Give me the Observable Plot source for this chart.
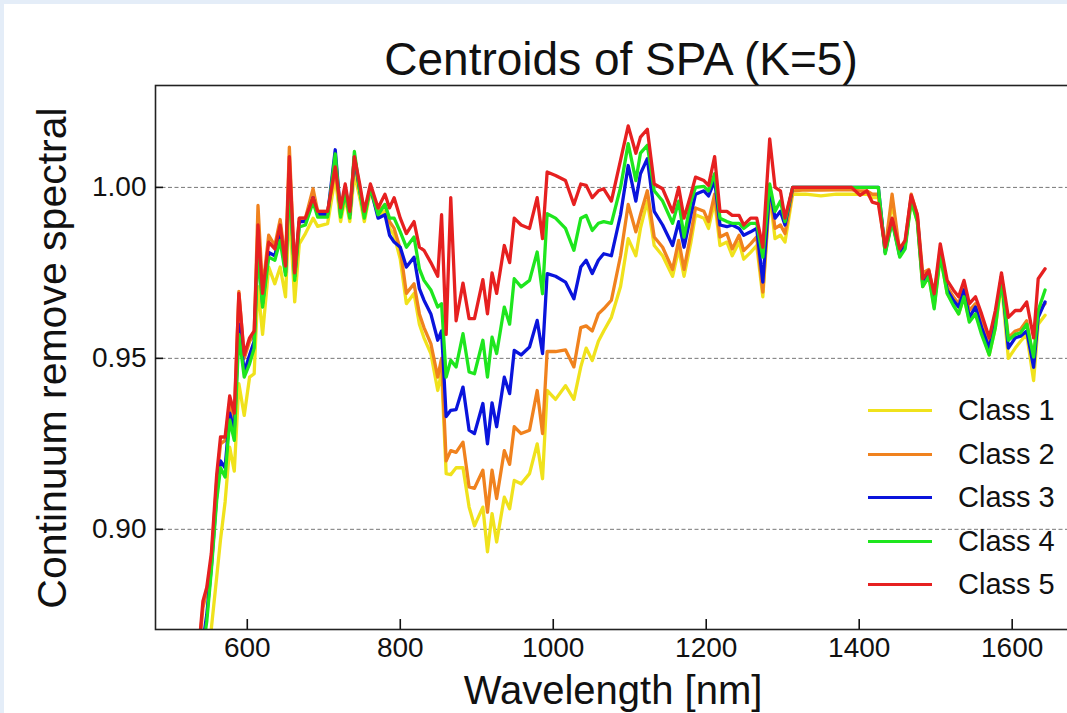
<!DOCTYPE html>
<html>
<head>
<meta charset="utf-8">
<script src="https://cdn.jsdelivr.net/npm/d3@7"></script>
<script src="https://cdn.jsdelivr.net/npm/@observablehq/plot@0.6"></script>
<style>
  html, body { margin: 0; padding: 0; }
  body { width: 1067px; height: 713px; overflow: hidden; background: #e4edf8; position: relative;
         font-family: "Liberation Sans", Arial, sans-serif; color: #111; }
  #panel { position: absolute; left: 4px; top: 4px; width: 1063px; height: 709px; background: #fff; }
  #chart { position: absolute; left: 0; top: 0; width: 1100px; height: 713px; }
  .title { position: absolute; left: 621px; top: 36px; transform: translateX(-50%); font-size: 46px; line-height: 1; white-space: nowrap; }
  .xlabel { position: absolute; left: 613px; top: 670px; transform: translateX(-50%); font-size: 40px; line-height: 1; white-space: nowrap; }
  .ylabel { position: absolute; left: 52px; top: 358px; transform: translate(-50%, -50%) rotate(-90deg); font-size: 41px; line-height: 1; white-space: nowrap; }
  #legend { position: absolute; left: 868px; top: 389px; }
  .row { display: flex; align-items: center; height: 43.5px; }
  .swatch { width: 64px; height: 3px; margin-right: 26px; }
  .lab { font-size: 29px; line-height: 1; white-space: nowrap; }
</style>
</head>
<body>
<div id="panel"></div>
<div id="chart"></div>
<div class="title">Centroids of SPA (K=5)</div>
<div class="xlabel">Wavelength [nm]</div>
<div class="ylabel">Continuum remove spectral</div>
<div id="legend"></div>
<script>
const classes = ["Class 1", "Class 2", "Class 3", "Class 4", "Class 5"];
const colors = ["#f0e21c", "#f0821e", "#0a14dc", "#1ee61e", "#e62020"];
const xTicks = [600, 800, 1000, 1200, 1400, 1600];
const yTicks = [0.90, 0.95, 1.00];

const wavelengths = [
  537, 542, 547, 553, 560, 565, 571, 577, 583, 589,
  596, 603, 609, 614, 620, 628, 636, 643, 650, 655,
  662, 668, 676, 686, 692, 705, 715, 722, 728, 734,
  740, 747, 753, 761, 771, 780, 786, 792, 800, 808,
  818, 825, 831, 840, 849, 854, 860, 866, 873, 882,
  890, 897, 908, 914, 920, 926, 936, 943, 949, 958,
  969, 979, 986, 992, 1003, 1016, 1027, 1036, 1043, 1051,
  1059, 1066, 1076, 1088, 1098, 1108, 1114, 1123, 1132, 1143,
  1156, 1164, 1171, 1180, 1186, 1197, 1203, 1211, 1218, 1227,
  1234, 1243, 1249, 1258, 1266, 1274, 1283, 1290, 1297, 1303,
  1313, 1330, 1350, 1370, 1390, 1401, 1410, 1417, 1425, 1434,
  1443, 1453, 1460, 1468, 1476, 1483, 1491, 1498, 1506, 1515,
  1523, 1530, 1537, 1544, 1552, 1560, 1570, 1578, 1586, 1595,
  1604, 1611, 1619, 1628, 1634, 1643
];

const class1 = [
  0.852, 0.858, 0.864, 0.871, 0.886, 0.897, 0.908, 0.924, 0.917, 0.9426,
  0.9333, 0.9445, 0.9455, 0.971, 0.957, 0.9767, 0.9718, 0.9767, 0.968, 0.9942,
  0.9665, 0.9835, 0.9865, 0.991, 0.9886, 0.9894, 1.003, 0.990, 0.997, 0.990,
  1.004, 0.997, 0.990, 0.999, 0.992, 0.993, 0.988, 0.986, 0.979, 0.966,
  0.969, 0.960, 0.956, 0.9514, 0.9406, 0.946, 0.9163, 0.916, 0.918, 0.918,
  0.9065, 0.901, 0.9065, 0.8934, 0.9046, 0.8963, 0.9094, 0.906, 0.9143, 0.9133,
  0.9163, 0.925, 0.9148, 0.9406, 0.938, 0.942, 0.938, 0.9475, 0.953, 0.9494,
  0.955, 0.958, 0.962, 0.971, 0.985, 0.980, 0.988, 0.996, 0.983, 0.980,
  0.974, 0.982, 0.974, 0.984, 0.992, 0.991, 0.988, 0.996, 0.983, 0.984,
  0.980, 0.984, 0.979, 0.981, 0.983, 0.968, 0.998, 0.985, 0.986, 0.984,
  0.998, 0.998, 0.9975, 0.998, 0.998, 0.998, 0.998, 0.997, 0.997, 0.981,
  0.996, 0.980, 0.983, 0.996, 0.990, 0.971, 0.974, 0.965, 0.980, 0.969,
  0.966, 0.963, 0.968, 0.961, 0.963, 0.958, 0.951, 0.959, 0.972, 0.950,
  0.953, 0.955, 0.957, 0.9435, 0.960, 0.9626
];

const class2 = [
  0.865, 0.877, 0.882, 0.891, 0.914, 0.925, 0.926, 0.937, 0.932, 0.9696,
  0.950, 0.955, 0.957, 0.9947, 0.970, 0.986, 0.983, 0.9906, 0.978, 1.0118,
  0.975, 0.991, 0.991, 0.9996, 0.993, 0.993, 1.005, 0.993, 1.000, 0.992,
  1.008, 1.000, 0.992, 1.000, 0.993, 0.995, 0.990, 0.988, 0.982, 0.969,
  0.9718, 0.963, 0.959, 0.9543, 0.9445, 0.950, 0.920, 0.923, 0.9225, 0.9255,
  0.9124, 0.912, 0.9173, 0.905, 0.9173, 0.909, 0.923, 0.919, 0.930, 0.928,
  0.929, 0.9406, 0.928, 0.952, 0.952, 0.9525, 0.9475, 0.959, 0.9595, 0.958,
  0.963, 0.9645, 0.967, 0.980, 0.995, 0.987, 0.992, 0.999, 0.9855, 0.9825,
  0.976, 0.9845, 0.976, 0.9865, 0.994, 0.993, 0.990, 0.998, 0.9855, 0.9865,
  0.982, 0.986, 0.9815, 0.9835, 0.9855, 0.9694, 0.999, 0.988, 0.989, 0.9865,
  0.999, 0.9993, 0.9992, 0.9993, 0.9993, 0.999, 0.999, 0.998, 0.998, 0.982,
  0.998, 0.981, 0.984, 0.998, 0.992, 0.975, 0.976, 0.968, 0.982, 0.971,
  0.968, 0.966, 0.971, 0.964, 0.966, 0.961, 0.954, 0.962, 0.974, 0.956,
  0.958, 0.9585, 0.961, 0.949, 0.964, 0.966
];

const class3 = [
  0.860, 0.867, 0.875, 0.889, 0.910, 0.920, 0.918, 0.934, 0.929, 0.960,
  0.946, 0.951, 0.955, 0.984, 0.966, 0.981, 0.980, 0.987, 0.975, 1.004,
  0.974, 0.990, 0.990, 0.997, 0.992, 0.992, 1.011, 0.992, 0.999, 0.992,
  1.009, 0.999, 0.992, 1.000, 0.991, 0.992, 0.986, 0.984, 0.9825, 0.9767,
  0.9796, 0.9704, 0.967, 0.963, 0.9553, 0.958, 0.933, 0.9348, 0.935, 0.9416,
  0.929, 0.928, 0.9368, 0.925, 0.937, 0.930, 0.9445, 0.9397, 0.9523, 0.951,
  0.9533, 0.9611, 0.9514, 0.9748, 0.974, 0.9723, 0.9674, 0.9767, 0.9787, 0.9748,
  0.9787, 0.9806, 0.980, 0.992, 1.0064, 0.996, 1.004, 1.0084, 0.993, 0.989,
  0.983, 0.990, 0.9825, 0.992, 0.998, 0.999, 0.9975, 1.002, 0.989, 0.9885,
  0.989, 0.988, 0.986, 0.987, 0.988, 0.9723, 1.000, 0.991, 0.993, 0.989,
  1.000, 1.000, 1.000, 1.000, 1.000, 1.000, 1.000, 1.000, 1.000, 0.981,
  0.9905, 0.980, 0.983, 0.997, 0.991, 0.972, 0.975, 0.966, 0.981, 0.970,
  0.967, 0.965, 0.970, 0.962, 0.965, 0.959, 0.953, 0.961, 0.974, 0.953,
  0.956, 0.9565, 0.958, 0.9474, 0.962, 0.9665
];

const class4 = [
  0.858, 0.865, 0.873, 0.888, 0.9085, 0.918, 0.9153, 0.932, 0.926, 0.957,
  0.9445, 0.9484, 0.953, 0.9816, 0.965, 0.9796, 0.9787, 0.9845, 0.9743, 1.002,
  0.9728, 0.9884, 0.989, 0.9957, 0.9913, 0.9913, 1.0098, 0.9913, 0.9987, 0.991,
  1.0105, 0.999, 0.991, 1.000, 0.992, 0.995, 0.991, 0.991, 0.987, 0.9825,
  0.9855, 0.9762, 0.9728, 0.970, 0.965, 0.966, 0.9445, 0.9494, 0.9475, 0.9572,
  0.946, 0.9455, 0.9553, 0.9445, 0.9562, 0.9514, 0.965, 0.960, 0.9733, 0.9709,
  0.9728, 0.9811, 0.9689, 0.9923, 0.991, 0.988, 0.9816, 0.991, 0.9918, 0.9874,
  0.9895, 0.990, 0.9895, 1.000, 1.0128, 1.002, 1.010, 1.0123, 0.999, 0.996,
  0.9895, 0.996, 0.9855, 0.996, 1.000, 1.0003, 0.999, 1.004, 0.991, 0.990,
  0.9895, 0.9895, 0.988, 0.9895, 0.9895, 0.9796, 1.001, 0.993, 0.996, 0.990,
  1.000, 1.000, 1.000, 1.000, 1.000, 1.000, 1.000, 1.000, 1.000, 0.9806,
  0.990, 0.9796, 0.982, 0.996, 0.990, 0.971, 0.974, 0.9645, 0.980, 0.969,
  0.9655, 0.963, 0.968, 0.9606, 0.963, 0.957, 0.951, 0.959, 0.9733, 0.9553,
  0.957, 0.9575, 0.960, 0.9504, 0.964, 0.970
];

const class5 = [
  0.866, 0.879, 0.883, 0.893, 0.916, 0.927, 0.927, 0.939, 0.934, 0.969,
  0.951, 0.956, 0.958, 0.989, 0.969, 0.984, 0.982, 0.989, 0.977, 1.009,
  0.975, 0.991, 0.991, 0.997, 0.993, 0.993, 1.006, 0.994, 1.001, 0.993,
  1.009, 1.001, 0.993, 1.001, 0.994, 0.998, 0.994, 0.997, 0.991, 0.9865,
  0.990, 0.9825, 0.9816, 0.978, 0.974, 0.992, 0.957, 0.997, 0.961, 0.972,
  0.9616, 0.9616, 0.973, 0.963, 0.975, 0.969, 0.983, 0.978, 0.991, 0.989,
  0.988, 0.997, 0.985, 1.0045, 1.0035, 1.002, 0.995, 1.001, 1.0006, 0.997,
  0.999, 0.9996, 0.996, 1.008, 1.018, 1.010, 1.0147, 1.017, 1.001, 0.9996,
  0.9928, 1.000, 0.991, 0.998, 1.003, 1.002, 1.0006, 1.009, 0.993, 0.993,
  0.9918, 0.9918, 0.989, 0.991, 0.991, 0.9825, 1.0142, 1.000, 0.999, 0.991,
  1.000, 1.000, 1.000, 1.000, 1.000, 0.9977, 0.999, 0.9957, 0.9952, 0.9825,
  0.991, 0.982, 0.9845, 0.9977, 0.992, 0.9733, 0.9757, 0.9689, 0.9835, 0.9728,
  0.970, 0.968, 0.9728, 0.966, 0.968, 0.963, 0.956, 0.964, 0.975, 0.962,
  0.964, 0.964, 0.9665, 0.956, 0.9733, 0.9762
];

const series = [class1, class2, class3, class4, class5];
const data = [];
series.forEach((vals, i) => vals.forEach((v, j) => data.push({wl: wavelengths[j], value: v, cls: classes[i]})));

const W = 1100, H = 713, mT = 85, mB = 84, mL = 155, mR = 8;
const frameW = W - mL - mR, frameH = H - mT - mB;

const chart = Plot.plot({
  width: W,
  height: H,
  marginTop: mT,
  marginBottom: mB,
  marginLeft: mL,
  marginRight: mR,
  x: {domain: [480, 1705]},
  y: {domain: [0.8707, 1.0298]},
  color: {domain: classes, range: colors},
  style: {background: "transparent", maxWidth: "none", overflow: "visible", fontFamily: "'Liberation Sans', Arial, sans-serif", color: "#111"},
  marks: [
    Plot.gridY(yTicks, {stroke: "#777", strokeOpacity: 1, strokeWidth: 1, strokeDasharray: "4,2.5"}),
    Plot.line(data, {x: "wl", y: "value", stroke: "cls", z: "cls", strokeWidth: 3.3, clip: true}),
    Plot.frame({stroke: "#222", strokeWidth: 1.6}),
    Plot.ruleX(xTicks, {x: d => d, insetTop: frameH - 10, stroke: "#111", strokeWidth: 1.6}),
    Plot.ruleY(yTicks, {y: d => d, insetRight: frameW - 8, stroke: "#111", strokeWidth: 1.6}),
    Plot.axisX(xTicks, {tickSize: 0, tickPadding: 8, fontSize: 28, label: null, tickFormat: d3.format("d")}),
    Plot.axisY(yTicks, {tickSize: 0, tickPadding: 9, fontSize: 28, label: null, tickFormat: d3.format(".2f")})
  ]
});
document.getElementById("chart").appendChild(chart);

const legend = document.getElementById("legend");
classes.forEach((c, i) => {
  const row = document.createElement("div");
  row.className = "row";
  const sw = document.createElement("span");
  sw.className = "swatch";
  sw.style.background = colors[i];
  const lab = document.createElement("span");
  lab.className = "lab";
  lab.textContent = c;
  row.appendChild(sw);
  row.appendChild(lab);
  legend.appendChild(row);
});
</script>
</body>
</html>
